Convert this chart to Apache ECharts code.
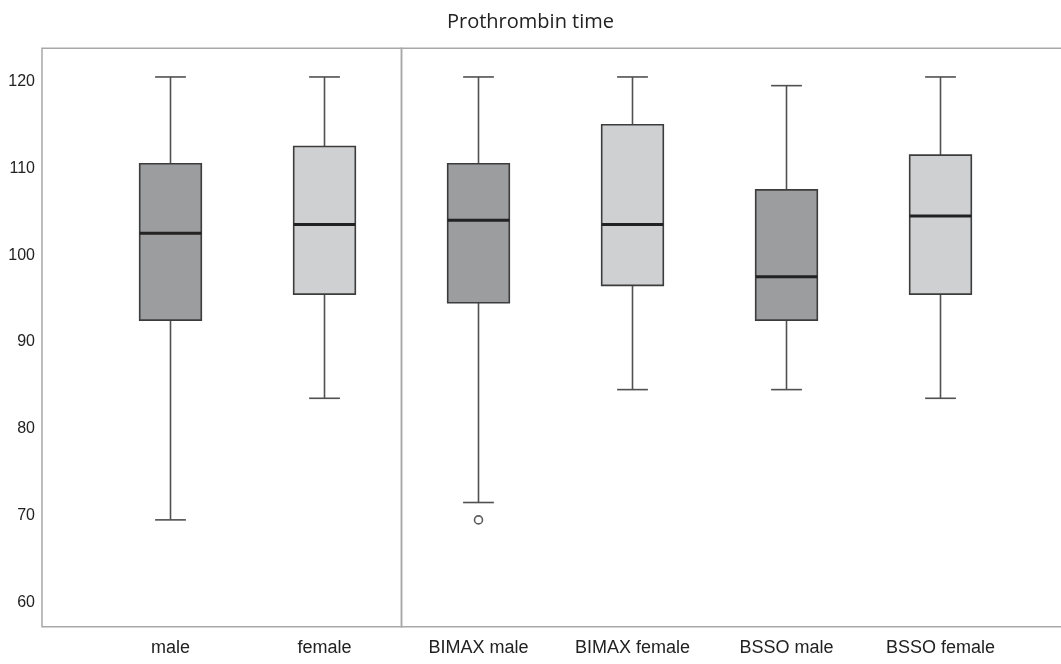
<!DOCTYPE html>
<html>
<head>
<meta charset="utf-8">
<title>Prothrombin time</title>
<script src="https://cdn.jsdelivr.net/npm/echarts@6/dist/echarts.min.js"></script>
<style>
  html, body { margin: 0; padding: 0; background: #ffffff; }
  #chart { width: 1061px; height: 664px; }
</style>
</head>
<body>
<div id="chart"></div>
<script>
// Groups shown along the horizontal axis
const categories = ['male', 'female', 'BIMAX male', 'BIMAX female', 'BSSO male', 'BSSO female'];
// Five-number summaries per group (lower whisker, Q1, median, Q3, upper whisker)
const lowerWhisker = [69, 83, 71, 84, 84, 83];
const quartile1    = [92, 95, 94, 96, 92, 95];
const median       = [102, 103, 103.5, 103, 97, 104];
const quartile3    = [110, 112, 110, 114.5, 107, 111];
const upperWhisker = [120, 120, 120, 120, 119, 120];
// Outlying observations: [group, value]
const outliers = [['BIMAX male', 69]];
// Value-axis tick labels
const yTicks = [60, 70, 80, 90, 100, 110, 120];
// Sex of each group decides the box shade
const sex = ['m', 'f', 'm', 'f', 'm', 'f'];

const boxData = categories.map((c, i) => [i, lowerWhisker[i], quartile1[i], median[i], quartile3[i], upperWhisker[i], sex[i]]);
const outlierData = outliers.map(o => [categories.indexOf(o[0]), o[1]]);

const FILL = { m: '#9c9d9f', f: '#cfd0d2' };

function renderBox(params, api) {
  const x = api.value(0);
  const pLo = api.coord([x, api.value(1)]);
  const pQ1 = api.coord([x, api.value(2)]);
  const pMed = api.coord([x, api.value(3)]);
  const pQ3 = api.coord([x, api.value(4)]);
  const pHi = api.coord([x, api.value(5)]);
  const band = api.size([1, 0])[0];
  const half = band * 0.2;
  const cap = band * 0.1;
  const cx = pQ1[0];
  const whisker = { stroke: '#505050', lineWidth: 1.6 };
  return {
    type: 'group',
    children: [
      { type: 'line', shape: { x1: cx, y1: pQ3[1], x2: cx, y2: pHi[1] }, style: whisker },
      { type: 'line', shape: { x1: cx, y1: pQ1[1], x2: cx, y2: pLo[1] }, style: whisker },
      { type: 'line', shape: { x1: cx - cap, y1: pHi[1], x2: cx + cap, y2: pHi[1] }, style: whisker },
      { type: 'line', shape: { x1: cx - cap, y1: pLo[1], x2: cx + cap, y2: pLo[1] }, style: whisker },
      {
        type: 'rect',
        shape: { x: cx - half, y: pQ3[1], width: half * 2, height: pQ1[1] - pQ3[1] },
        style: { fill: FILL[api.value(6)], stroke: '#3c3c3c', lineWidth: 1.6 }
      },
      { type: 'line', shape: { x1: cx - half, y1: pMed[1], x2: cx + half, y2: pMed[1] }, style: { stroke: '#222222', lineWidth: 3 } }
    ]
  };
}

const chart = echarts.init(document.getElementById('chart'), null, { renderer: 'canvas' });
chart.setOption({
  animation: false,
  backgroundColor: '#ffffff',
  title: {
    text: 'Prothrombin time',
    left: 'center',
    top: 7,
    textStyle: { fontFamily: 'Open Sans', fontSize: 20, fontWeight: 'normal', color: '#222222' }
  },
  grid: [
    // plotting area holding the boxes
    { left: 93.5, right: 43.5, top: 48.3, bottom: 37.3, outerBoundsMode: 'none' },
    // frame of the left panel (all patients)
    { left: 42, width: 359.5, top: 48.3, bottom: 37.3, outerBoundsMode: 'none', show: true, borderColor: '#a8a8a8', borderWidth: 1.5, backgroundColor: 'transparent' },
    // frame of the right panel (by surgical procedure), open towards the right edge
    { left: 401.5, width: 680, top: 48.3, bottom: 37.3, outerBoundsMode: 'none', show: true, borderColor: '#a8a8a8', borderWidth: 1.5, backgroundColor: 'transparent' }
  ],
  xAxis: [
    {
      type: 'category', gridIndex: 0, data: categories, boundaryGap: true,
      axisLine: { show: false }, axisTick: { show: false }, splitLine: { show: false },
      axisLabel: { margin: 12, fontFamily: 'Liberation Sans', fontSize: 18, color: '#222222', interval: 0 }
    },
    { type: 'value', gridIndex: 1, show: false, min: 0, max: 1 },
    { type: 'value', gridIndex: 2, show: false, min: 0, max: 1 }
  ],
  yAxis: [
    {
      type: 'value', gridIndex: 0, min: 56.7, max: 123.3, offset: 51.5,
      axisLine: { show: false }, axisTick: { show: false }, splitLine: { show: false },
      axisLabel: { customValues: yTicks, margin: 7, verticalAlign: 'top', lineHeight: 9, fontFamily: 'Liberation Sans', fontSize: 16, color: '#222222' }
    },
    { type: 'value', gridIndex: 1, show: false, min: 56.7, max: 123.3 },
    { type: 'value', gridIndex: 2, show: false, min: 56.7, max: 123.3 }
  ],
  series: [
    {
      type: 'custom', xAxisIndex: 0, yAxisIndex: 0,
      renderItem: renderBox,
      encode: { x: 0, y: [1, 2, 3, 4, 5] },
      data: boxData,
      z: 3
    },
    {
      type: 'scatter', xAxisIndex: 0, yAxisIndex: 0,
      data: outlierData,
      symbol: 'circle', symbolSize: 8,
      itemStyle: { color: '#ffffff', borderColor: '#333333', borderWidth: 1.6 },
      z: 4
    }
  ]
});
</script>
</body>
</html>
